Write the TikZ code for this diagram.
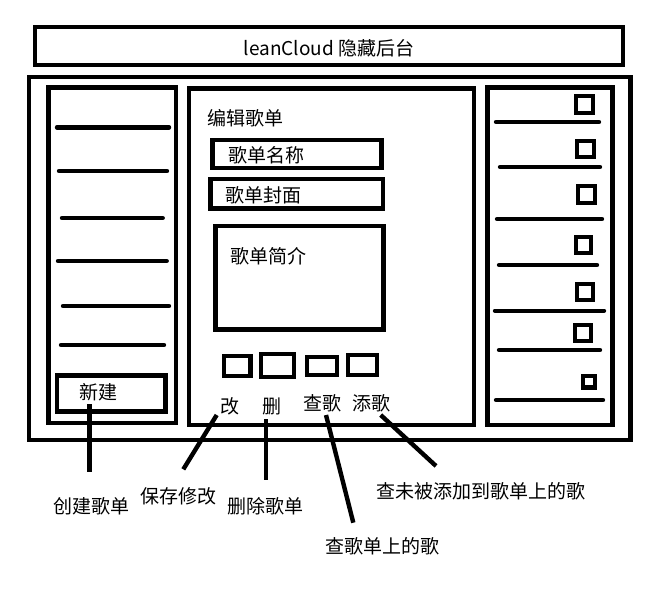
\documentclass[tikz,border=0pt]{standalone}
\usepackage{fontspec}
\setmainfont{Noto Sans CJK SC}
\begin{document}
\begin{tikzpicture}[x=1pt,y=-1pt,
  box/.style={draw,line width=4.4pt,line join=miter},
  bar/.style={draw,line width=4.4pt,line cap=round},
  lbl/.style={inner sep=0pt,font=\fontsize{19}{22}\selectfont}]
\useasboundingbox (0,0) rectangle (658,600);
% title bar
\draw[box] (35,26.7) rectangle (623,65);
\node[lbl] (title) at (329,48) {leanCloud 隐藏后台};
% main frame
\draw[box] (29,77) rectangle (630.5,439.7);
% left panel
\draw[box] (48.5,87.5) rectangle (176,423);
\draw[bar] (57,127.3) -- (169,127.3);
\draw[bar] (59,171) -- (167,171);
\draw[bar] (62,218) -- (162.7,218);
\draw[bar] (58,261) -- (166.7,261);
\draw[bar] (63,306) -- (169,306);
\draw[bar] (61,345) -- (164,345);
\draw[box] (57,375.5) rectangle (165.5,411.5);
\node[lbl] (xinjian) at (98.5,392.5) {新建};
% middle panel
\draw[box] (189,88.3) rectangle (474,425);
\node[lbl] (edit) at (245,118) {编辑歌单};
\draw[box] (212.5,140) rectangle (381.5,168);
\node[lbl] (name) at (266.5,155) {歌单名称};
\draw[box] (210.5,179) rectangle (383,208.5);
\node[lbl] (cover) at (263.5,195) {歌单封面};
\draw[box] (215.5,226) rectangle (383.3,329.5);
\node[lbl] (intro) at (268.5,256) {歌单简介};
\draw[box] (224,356) rectangle (250.5,376);
\draw[box] (261,354) rectangle (294,377);
\draw[box] (307,357) rectangle (337,375);
\draw[box] (348,355) rectangle (377,375);
\node[lbl] (gai) at (230,406) {改};
\node[lbl] (shan) at (271.5,406.5) {删};
\node[lbl] (chage) at (322.7,403.3) {查歌};
\node[lbl] (tiange) at (371.7,403.3) {添歌};
% right panel
\draw[box] (487.5,87.5) rectangle (612.5,425);
\draw[box] (576,96) rectangle (593,113);
\draw[bar] (496,122) -- (599,122);
\draw[box] (577,141) rectangle (594,157);
\draw[bar] (500,167) -- (600,167);
\draw[box] (578,186) rectangle (595,203);
\draw[bar] (497,219) -- (602,219);
\draw[box] (576,237) rectangle (591,253);
\draw[bar] (499,265) -- (597,265);
\draw[box] (577,284) rectangle (593,300);
\draw[bar] (495,310.7) -- (604,310.7);
\draw[box] (575,325) rectangle (591,341);
\draw[bar] (499,350) -- (600,350);
\draw[box] (583,376) rectangle (595,387.5);
\draw[bar] (496,400) -- (603,400);
% callout labels
\node[lbl] (create) at (91.7,506) {创建歌单};
\node[lbl] (save) at (178.3,496.7) {保存修改};
\node[lbl] (del) at (265.7,506) {删除歌单};
\node[lbl] (query) at (382.7,546.7) {查歌单上的歌};
\node[lbl] (queryun) at (480.5,491.7) {查未被添加到歌单上的歌};
% connector end points
\coordinate (c1a) at (89.3,404);   \coordinate (c1b) at (89.3,471.7);
\coordinate (c2a) at (216.7,415);  \coordinate (c2b) at (183.3,469.3);
\coordinate (c3a) at (265.7,419.3);\coordinate (c3b) at (265.7,480);
\coordinate (c4a) at (326,415);    \coordinate (c4b) at (353.3,522.7);
\coordinate (c5a) at (380.7,415);  \coordinate (c5b) at (436,466);
\draw[bar,line cap=butt] (c1a) -- (c1b);
\draw[bar,line cap=butt] (c2a) -- (c2b);
\draw[bar,line cap=butt] (c3a) -- (c3b);
\draw[bar,line cap=butt] (c4a) -- (c4b);
\draw[bar,line cap=butt] (c5a) -- (c5b);
\end{tikzpicture}
\end{document}
